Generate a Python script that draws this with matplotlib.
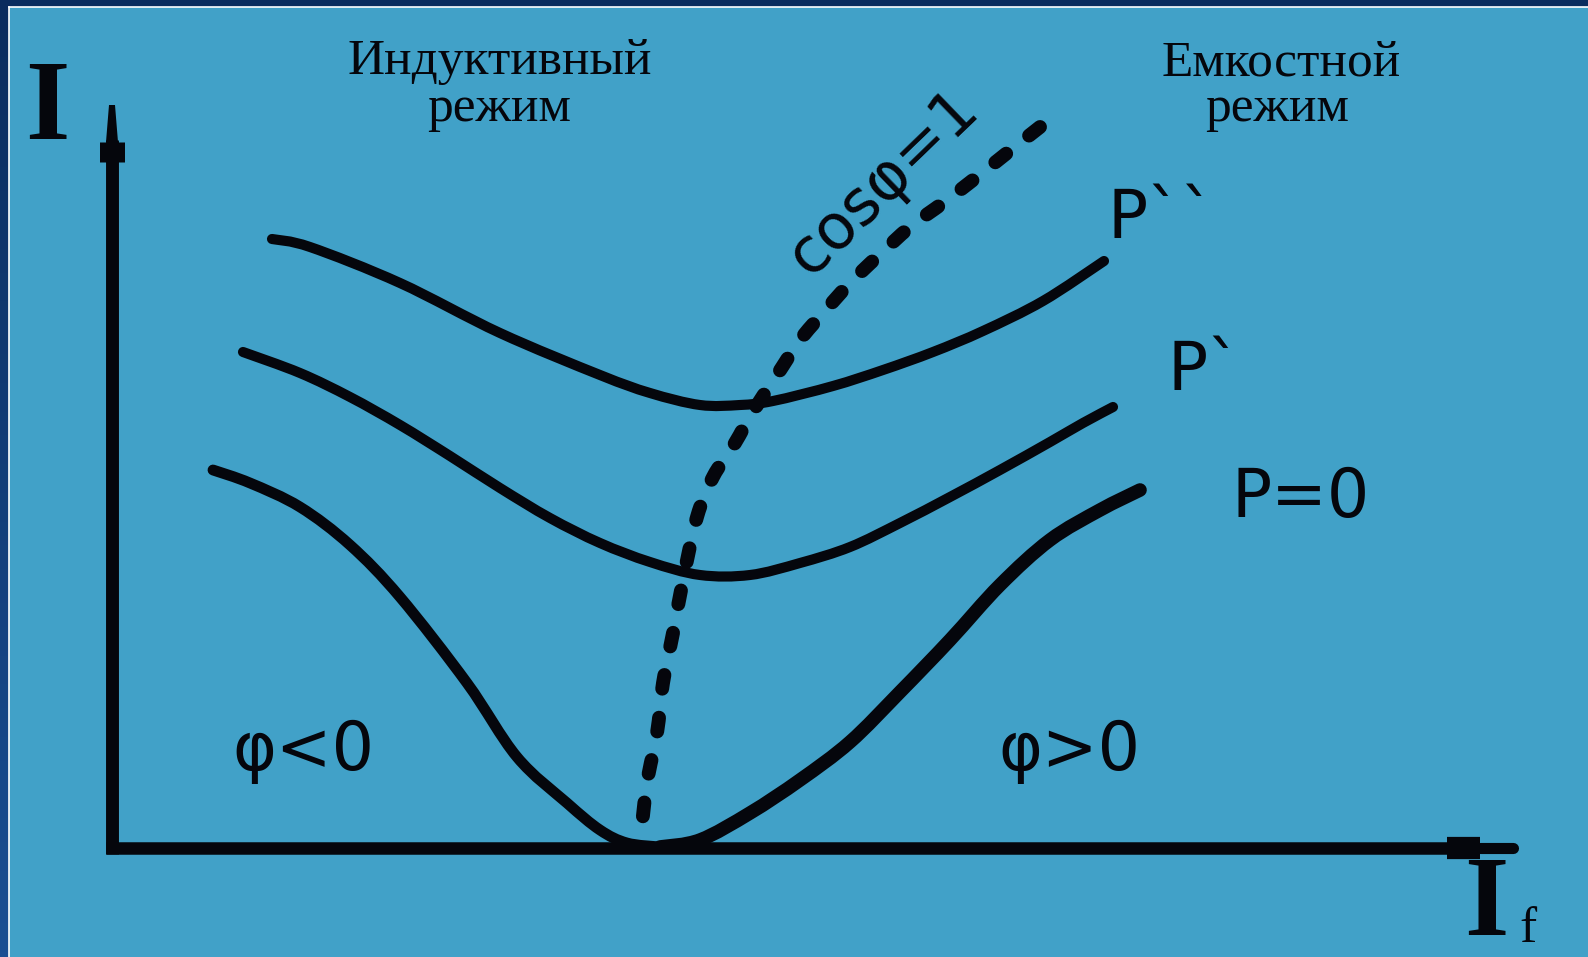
import matplotlib
matplotlib.use("Agg")
import matplotlib.pyplot as plt
from matplotlib.path import Path
from matplotlib.patches import PathPatch
import numpy as np

# ---- data (units: I_f horizontal, I vertical) ----
p2_if = [160, 198, 288, 388, 488, 538, 588, 628, 661, 721, 771, 821, 871, 931, 992]
p2_i = [609, 601, 565, 515, 473, 455, 443, 443, 447, 462, 478, 496, 517, 547, 587]

p1_if = [131, 188, 238, 288, 338, 388, 438, 488, 538, 588, 638, 688, 738, 788, 838, 888, 938, 971, 1001]
p1_i = [496, 475, 451, 423, 392, 360, 330, 305, 286, 273, 273, 285, 301, 325, 351, 378, 406, 425, 441]

p0_if = [101, 138, 188, 238, 288, 355, 405, 455, 488, 515, 548, 588, 638, 688, 738, 788, 838, 888, 938, 988, 1028]
p0_i = [378, 365, 341, 303, 251, 165, 91, 45, 18, 5, 1, 8, 35, 68, 106, 156, 208, 263, 308, 338, 358]

cos_if = [528, 535, 545, 551, 561, 571, 585, 601, 623, 640, 665, 688, 711, 738, 765, 798, 831, 861, 895, 928]
cos_i = [5, 65, 115, 165, 215, 268, 331, 371, 405, 435, 473, 508, 535, 565, 591, 621, 645, 668, 695, 721]

curve_labels = ["P``", "P`", "P=0"]
mode_labels = [("Индуктивный", "режим"), ("Емкостной", "режим")]
phase_labels = ["φ<0", "φ>0"]
unity_label = "cosφ=1"

# ---- figure ----
W, H = 1588, 957
ox, oy = 112, 848  # origin location in pixels
fig = plt.figure(figsize=(W / 100, H / 100), dpi=100)
fig.patch.set_facecolor("#103a78")

bg = fig.add_axes([0, 0, 1, 1])
bg.set_axis_off()
grad = np.linspace(0, 1, 200).reshape(-1, 1)
bg.imshow(grad, extent=[0, 1, 0, 1], aspect="auto",
          cmap=matplotlib.colors.LinearSegmentedColormap.from_list("b", ["#0a2c5e", "#1a4f93"]))
bg.set_xlim(0, 1)
bg.set_ylim(0, 1)

ax = fig.add_axes([9 / W, 0, 1 - 9 / W, 1 - 7 / H])
ax.set_facecolor("#41a1c8")
ax.set_xlim(9 - ox, W - ox)
ax.set_ylim(oy - H, oy - 7)
for s in ax.spines.values():
    s.set_visible(False)
ax.set_xticks([])
ax.set_yticks([])

fig.add_artist(plt.Line2D([8.5 / W, 8.5 / W], [0, 1 - 6.5 / H], color="white", lw=1.2, transform=fig.transFigure))
fig.add_artist(plt.Line2D([8.5 / W, 1], [1 - 6.5 / H, 1 - 6.5 / H], color="white", lw=1.2, transform=fig.transFigure))

ink = "#05060c"


def smooth_path(xs, ys):
    """Smooth curve through the given points (Catmull-Rom drawn as Bezier segments)."""
    P = np.column_stack([xs, ys]).astype(float)
    n = len(P)
    verts = [P[0]]
    codes = [Path.MOVETO]
    for i in range(n - 1):
        p0 = P[i - 1] if i > 0 else P[i]
        p1 = P[i]
        p2 = P[i + 1]
        p3 = P[i + 2] if i + 2 < n else P[i + 1]
        c1 = p1 + (p2 - p0) / 6.0
        c2 = p2 - (p3 - p1) / 6.0
        verts += [c1, c2, p2]
        codes += [Path.CURVE4] * 3
    return Path(verts, codes)


def draw_curve(xs, ys, **kw):
    patch = PathPatch(smooth_path(xs, ys), fill=False, edgecolor=ink, capstyle="round", joinstyle="round", **kw)
    ax.add_patch(patch)


# axes lines
ax.plot([0, 0], [-6, 708], color=ink, lw=9.3, solid_capstyle="butt")
ax.plot([0, 0], [686, 706], color=ink, lw=18, solid_capstyle="butt")
ax.fill([-6, 6, 3, -3], [706, 706, 743, 743], color=ink, lw=0)
ax.plot([-6, 1340], [0, 0], color=ink, lw=9, solid_capstyle="butt")
ax.plot([1335, 1368], [0, 0], color=ink, lw=16, solid_capstyle="butt")
ax.plot([1368, 1401], [0, 0], color=ink, lw=8, solid_capstyle="round")

# curves
draw_curve(p2_if, p2_i, lw=7.3)
draw_curve(p1_if, p1_i, lw=7.3)
k = p0_if.index(548)
draw_curve(p0_if[:k + 1], p0_i[:k + 1], lw=7.8)
draw_curve(p0_if[k:], p0_i[k:], lw=9.8)

# cos(phi)=1 line, dashes laid out from its upper end
cos_patch = PathPatch(smooth_path(cos_if[::-1], cos_i[::-1]), fill=False, edgecolor=ink, lw=10,
                      linestyle=(0, (1.0, 2.1)), capstyle="round")
ax.add_patch(cos_patch)

sans = "DejaVu Sans"
serif = "Liberation Serif"

# axis labels
ax.text(-65, 737, "I", fontfamily=serif, fontweight="bold", fontsize=82, color=ink, ha="center", va="center")
ax.text(1374, -59, "I", fontfamily=serif, fontweight="bold", fontsize=82, color=ink, ha="center", va="center")
ax.text(1407, -94, "f", fontfamily=serif, fontsize=37, color=ink, ha="left", va="baseline")

# mode labels
ax.text(388, 774, mode_labels[0][0], fontfamily=serif, fontsize=37, color=ink, ha="center", va="baseline")
ax.text(387, 727, mode_labels[0][1], fontfamily=serif, fontsize=37, color=ink, ha="center", va="baseline")
ax.text(1169, 773, mode_labels[1][0], fontfamily=serif, fontsize=37, color=ink, ha="center", va="baseline")
ax.text(1165, 727, mode_labels[1][1], fontfamily=serif, fontsize=37, color=ink, ha="center", va="baseline")

# curve labels
ax.text(996, 610, curve_labels[0], fontfamily=sans, fontsize=48, color=ink, ha="left", va="baseline")
ax.text(1056, 458, curve_labels[1], fontfamily=sans, fontsize=48, color=ink, ha="left", va="baseline")
ax.text(1119, 331, curve_labels[2], fontfamily=sans, fontsize=48, color=ink, ha="left", va="baseline")

# phase labels
ax.text(120, 78, phase_labels[0], fontfamily=sans, fontsize=48, color=ink, ha="left", va="baseline")
ax.text(886, 78, phase_labels[1], fontfamily=sans, fontsize=48, color=ink, ha="left", va="baseline")

ax.text(771, 665, unity_label, fontfamily=sans, fontsize=45, color=ink, ha="center", va="center",
        rotation=44, rotation_mode="anchor")

fig.savefig("out.png", dpi=100, facecolor=fig.get_facecolor())
